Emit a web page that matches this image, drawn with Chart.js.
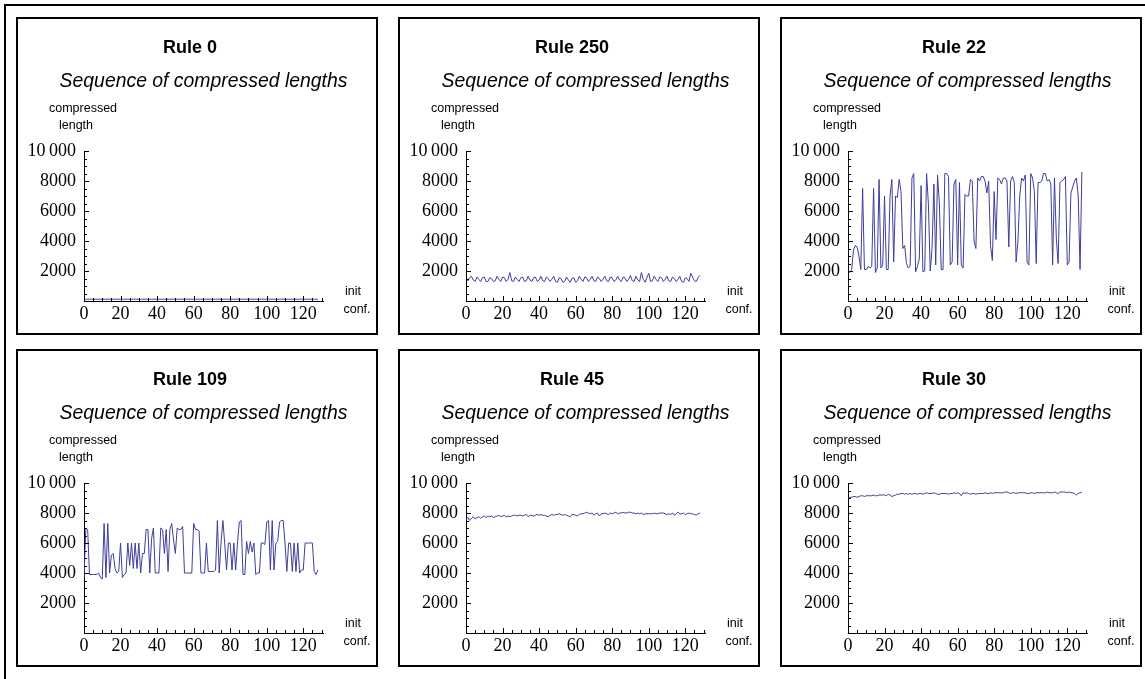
<!DOCTYPE html>
<html>
<head>
<meta charset="utf-8">
<script src="https://cdn.jsdelivr.net/npm/chart.js@4.4.1/dist/chart.umd.min.js"></script>
<style>
  body { margin:0; width:1145px; height:679px; overflow:hidden; background:#fff; position:relative; }
  #frame { position:absolute; left:4px; top:4px; width:1200px; height:700px; border:2px solid #000; box-sizing:border-box; }
  .panel { position:absolute; width:362px; height:318px; border:2px solid #000; box-sizing:border-box; background:#fff; }
  .panel canvas { display:block; }
</style>
</head>
<body>
<div id="frame"></div>
<div class="panel" style="left:16px;top:17px"><canvas id="c0" width="358" height="314"></canvas></div>
<div class="panel" style="left:398px;top:17px"><canvas id="c1" width="358" height="314"></canvas></div>
<div class="panel" style="left:780px;top:17px"><canvas id="c2" width="358" height="314"></canvas></div>
<div class="panel" style="left:16px;top:349px"><canvas id="c3" width="358" height="314"></canvas></div>
<div class="panel" style="left:398px;top:349px"><canvas id="c4" width="358" height="314"></canvas></div>
<div class="panel" style="left:780px;top:349px"><canvas id="c5" width="358" height="314"></canvas></div>
<script>
// initial configurations 0..128
var inits = Array.from({length: 129}, function (_, i) { return i; });
var xTicks = [0, 20, 40, 60, 80, 100, 120];
var yTicks = [0, 2000, 4000, 6000, 8000, 10000];
var rules = ["Rule 0", "Rule 250", "Rule 22", "Rule 109", "Rule 45", "Rule 30"];
var subtitle = "Sequence of compressed lengths";

var r0 = [
  120,120,120,120,120,120,120,120,120,120,120,120,120,120,120,120,
  120,120,120,120,120,120,120,120,120,120,120,120,120,120,120,120,
  120,120,120,120,120,120,120,120,120,120,120,120,120,120,120,120,
  120,120,120,120,120,120,120,120,120,120,120,120,120,120,120,120,
  120,120,120,120,120,120,120,120,120,120,120,120,120,120,120,120,
  120,120,120,120,120,120,120,120,120,120,120,120,120,120,120,120,
  120,120,120,120,120,120,120,120,120,120,120,120,120,120,120,120,
  120,120,120,120,120,120,120,120,120,120,120,120,120,120,120,120,
  120
];

var r250 = [
  1450,1350,1550,1650,1400,1300,1600,1450,1300,1550,1600,1300,1300,1550,1500,1300,
  1350,1650,1450,1300,1600,1550,1300,1450,1900,1350,1300,1600,1450,1300,1550,1600,
  1300,1350,1650,1400,1300,1550,1600,1300,1400,1650,1350,1300,1600,1500,1300,1450,
  1650,1300,1250,1550,1500,1250,1300,1600,1400,1250,1500,1550,1250,1350,1650,1450,
  1300,1600,1550,1300,1450,1650,1350,1300,1600,1500,1300,1450,1650,1350,1300,1600,
  1550,1300,1400,1650,1400,1300,1600,1550,1300,1450,1700,1350,1300,1650,1400,1300,
  1900,1450,1250,1550,1850,1300,1350,1650,1450,1300,1600,1550,1300,1450,1650,1350,
  1300,1600,1500,1300,1450,1650,1300,1250,1550,1500,1300,1850,1600,1350,1300,1550,
  1700
];

var r22 = [
  2000,1900,2100,3400,3700,3600,3000,2100,7500,2100,2100,2300,2200,2300,7500,1900,
  2200,8100,2200,2400,7000,2100,2100,7000,8100,2600,7000,6900,8100,7300,3500,3700,
  2500,2200,2300,8200,8500,1950,2300,2800,7700,1950,2000,8500,6500,2000,3500,7800,
  2400,8400,6500,2100,2100,8500,8500,8300,2400,2600,7800,8100,2400,7900,2400,2200,
  7100,7000,7000,8100,8000,4000,3500,8200,8000,8300,8300,8000,7200,8000,3700,2700,
  7300,4100,8200,8100,7800,8200,8200,8000,3600,8000,8300,7900,2600,4000,7000,8200,
  8000,8400,2600,2400,8500,8200,7300,2500,7900,7900,8000,8500,8500,8000,8100,7800,
  2400,8200,4200,2500,7900,8000,8100,8300,2400,2600,7200,7600,8000,8200,7000,2100,
  8600
];

var r109 = [
  3700,7000,6900,3900,3900,3900,3900,3900,4000,3700,3600,7300,3700,7300,4000,5200,
  5300,4300,4000,4100,6000,3700,3900,4000,6000,4500,6000,4300,6000,4300,6000,4000,
  5300,5300,6900,6900,4000,6300,7000,4000,4000,4000,7000,6900,5300,6900,4100,6900,
  7300,6200,5300,7000,6900,6900,7100,4000,4000,4000,4000,4000,7300,6900,6900,6800,
  4000,4000,4000,6000,4100,4100,4100,4100,4200,7500,4000,6000,7500,6000,4200,6000,
  6000,4200,6000,4200,6000,7400,7500,3900,3900,6100,5300,6100,5400,6000,3900,4000,
  4000,6000,6000,5900,7400,7500,4200,7500,4200,6000,6100,7400,7500,7500,6000,4100,
  6000,6000,4100,6000,4100,6000,4000,4200,4200,6000,6000,6000,6000,6000,4100,3900,
  4200
];

var r45 = [
  7550,7700,7500,7650,7750,7600,7700,7750,7650,7750,7800,7700,7800,7750,7800,7700,
  7750,7800,7850,7750,7800,7850,7750,7800,7750,7800,7850,7850,7800,7850,7850,7800,
  7850,7900,7750,7850,7850,7800,7850,7900,7850,7900,7850,7850,7800,7750,7850,7900,
  7850,7900,7900,7950,7900,7850,7900,7850,7800,7750,7900,7900,7850,7800,7900,7950,
  7950,8000,8050,8000,7950,8000,7850,7950,8000,7800,7950,7950,8000,7950,7900,8000,
  7950,8000,8050,7950,8000,8000,8050,8000,8000,8050,8050,8000,8000,7950,8000,7950,
  8000,7900,7950,7950,7950,7950,7950,8000,7950,7950,8000,8000,8000,7950,7900,7950,
  7900,8000,7850,7950,8050,7950,7950,8000,7900,7950,8000,7950,7950,7900,7850,7950,
  8000
];

var r30 = [
  9000,9050,9050,9100,9100,9050,9100,9150,9150,9100,9150,9150,9150,9150,9200,9150,
  9150,9200,9200,9200,9200,9150,9250,9200,9100,9150,9200,9250,9250,9300,9300,9250,
  9300,9250,9300,9250,9300,9300,9250,9300,9300,9250,9300,9350,9300,9300,9300,9350,
  9300,9250,9250,9300,9300,9300,9300,9250,9300,9300,9350,9300,9350,9300,9150,9350,
  9300,9350,9300,9250,9300,9300,9250,9300,9300,9300,9300,9350,9300,9300,9350,9300,
  9350,9350,9350,9350,9350,9350,9400,9400,9350,9300,9350,9350,9300,9350,9350,9350,
  9350,9350,9300,9300,9350,9350,9300,9350,9350,9350,9350,9350,9350,9400,9350,9350,
  9350,9400,9350,9300,9400,9400,9400,9400,9350,9400,9350,9350,9300,9200,9300,9350,
  9400
];

var series = [r0, r250, r22, r109, r45, r30];

// headings, inward ticks and axis captions, Mathematica style
var decor = {
  id: "decor",
  afterDraw: function (chart, args, opts) {
    var ctx = chart.ctx, a = chart.chartArea, x = chart.scales.x, y = chart.scales.y;
    ctx.save();
    ctx.strokeStyle = "#000";
    ctx.lineWidth = 1;
    ctx.beginPath();
    for (var v = 0; v <= 130; v += 5) {
      var px = Math.round(x.getPixelForValue(v)) + 0.5;
      ctx.moveTo(px, a.bottom);
      ctx.lineTo(px, a.bottom - (v % 20 === 0 ? 5 : 3));
    }
    for (var w = 500; w <= 10000; w += 500) {
      var py = Math.round(y.getPixelForValue(w)) + 0.5;
      ctx.moveTo(a.left, py);
      ctx.lineTo(a.left + (w % 2000 === 0 ? 5 : 3), py);
    }
    ctx.stroke();

    ctx.fillStyle = "#000";
    ctx.textAlign = "center";
    ctx.textBaseline = "middle";
    ctx.font = "bold 18px 'Liberation Sans', Arial, sans-serif";
    ctx.fillText(opts.title, a.left + 106, a.top - 103);
    ctx.font = "italic 19.4px 'Liberation Sans', Arial, sans-serif";
    ctx.fillText(subtitle, (a.left + a.right) / 2, a.top - 69);

    ctx.font = "12.5px 'Liberation Sans', Arial, sans-serif";
    ctx.fillText("compressed", a.left - 1, a.top - 42);
    ctx.fillText("length", a.left - 8, a.top - 25);
    ctx.fillText("init", a.right + 30, a.bottom - 9);
    ctx.fillText("conf.", a.right + 34, a.bottom + 9);
    ctx.restore();
  }
};

var tickFont = {family: "'Liberation Serif', 'Times New Roman', serif", size: 18};

series.forEach(function (vals, k) {
  new Chart(document.getElementById("c" + k), {
    type: "line",
    data: {
      labels: inits,
      datasets: [{
        data: vals,
        borderColor: "rgb(63,61,153)",
        borderWidth: 1,
        pointRadius: 0,
        tension: 0,
        fill: false
      }]
    },
    options: {
      responsive: false,
      animation: false,
      events: [],
      layout: {padding: {left: 0, right: 53, top: 132, bottom: 0}},
      plugins: {
        legend: {display: false},
        tooltip: {enabled: false},
        decor: {title: rules[k]}
      },
      scales: {
        x: {
          type: "linear", min: 0, max: 130.8,
          afterBuildTicks: function (s) { s.ticks = xTicks.map(function (v) { return {value: v}; }); },
          afterFit: function (s) { s.height = 32; },
          grid: {display: false, drawTicks: false},
          border: {display: true, color: "#000", width: 1},
          ticks: {color: "#000", font: tickFont, padding: 2, maxRotation: 0, autoSkip: false}
        },
        y: {
          type: "linear", min: 0, max: 10000,
          afterBuildTicks: function (s) { s.ticks = yTicks.map(function (v) { return {value: v}; }); },
          afterFit: function (s) { s.width = 66; },
          grid: {display: false, drawTicks: false},
          border: {display: true, color: "#000", width: 1},
          ticks: {
            color: "#000", font: tickFont, padding: 8, autoSkip: false,
            callback: function (v) { return v === 0 ? "" : (v >= 10000 ? "10\u2009000" : String(v)); }
          }
        }
      }
    },
    plugins: [decor]
  });
});
</script>
</body>
</html>
